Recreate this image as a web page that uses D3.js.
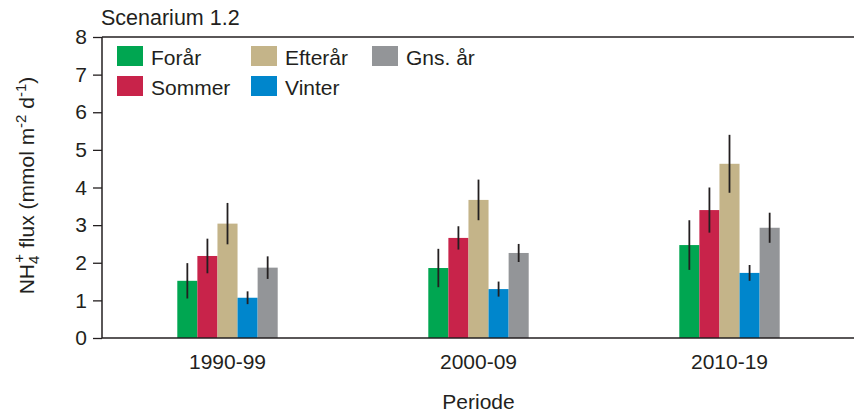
<!DOCTYPE html>
<html>
<head>
<meta charset="utf-8">
<script src="https://cdn.jsdelivr.net/npm/d3@7"></script>
<style>
  html, body { margin: 0; padding: 0; background: #fff; }
  svg { display: block; font-family: "Liberation Sans", Arial, Helvetica, sans-serif; }
</style>
</head>
<body>
<svg id="chart" width="854" height="414"></svg>
<script>
// Periods on the x axis
const periods = ["1990-99", "2000-09", "2010-19"];
// Seasons (series) and their colours
const seasons = ["Forår", "Sommer", "Efterår", "Vinter", "Gns. år"];
const seasonColors = ["#00a651", "#c8234a", "#c4b489", "#0086cc", "#939598"];
// Mean NH4+ flux per period, one array per season
const forar   = [1.52, 1.86, 2.47];
const sommer  = [2.18, 2.66, 3.40];
const efterar = [3.04, 3.67, 4.63];
const vinter  = [1.07, 1.30, 1.73];
const gnsAar  = [1.87, 2.26, 2.93];
// Error (± half-length of the error bar) per period
const forarErr   = [0.47, 0.51, 0.66];
const sommerErr  = [0.46, 0.31, 0.60];
const efterarErr = [0.55, 0.54, 0.77];
const vinterErr  = [0.17, 0.20, 0.21];
const gnsAarErr  = [0.30, 0.24, 0.40];
const yTicks = [0, 1, 2, 3, 4, 5, 6, 7, 8];

const means = [forar, sommer, efterar, vinter, gnsAar];
const errs = [forarErr, sommerErr, efterarErr, vinterErr, gnsAarErr];

const svg = d3.select("#chart");
const plotLeft = 102, plotRight = 855, plotTop = 37, plotBottom = 338;
const ink = "#231f20";
const fontSize = 21;

const x0 = d3.scaleBand().domain(periods).range([plotLeft, plotRight])
  .paddingInner(0.6).paddingOuter(0.3);
const x1 = d3.scaleBand().domain(seasons).range([0, x0.bandwidth()]);
const y = d3.scaleLinear().domain([0, 8]).range([plotBottom, plotTop]);
const color = d3.scaleOrdinal().domain(seasons).range(seasonColors);

// Bars and error bars
const rows = [];
periods.forEach((p, i) => {
  seasons.forEach((s, j) => {
    rows.push({ period: p, season: s, value: means[j][i], err: errs[j][i] });
  });
});

const g = svg.append("g");
g.selectAll("rect.bar").data(rows).enter().append("rect")
  .attr("class", "bar")
  .attr("x", d => x0(d.period) + x1(d.season))
  .attr("y", d => y(d.value))
  .attr("width", x1.bandwidth())
  .attr("height", d => y(0) - y(d.value))
  .attr("fill", d => color(d.season));

g.selectAll("line.err").data(rows).enter().append("line")
  .attr("class", "err")
  .attr("x1", d => x0(d.period) + x1(d.season) + x1.bandwidth() / 2)
  .attr("x2", d => x0(d.period) + x1(d.season) + x1.bandwidth() / 2)
  .attr("y1", d => y(d.value + d.err))
  .attr("y2", d => y(d.value - d.err))
  .attr("stroke", ink)
  .attr("stroke-width", 1.8);

// Y axis
const yAxis = svg.append("g")
  .attr("transform", `translate(${plotLeft},0)`)
  .call(d3.axisLeft(y).tickValues(yTicks).tickSize(9).tickPadding(6).tickFormat(d3.format("d")));
yAxis.select(".domain").remove();
yAxis.selectAll(".tick line").attr("stroke", ink).attr("stroke-width", 1.3);
yAxis.selectAll(".tick text")
  .attr("font-size", fontSize).attr("fill", ink)
  .attr("font-family", "Liberation Sans, Arial, sans-serif");

// Frame lines: left and top
svg.append("line").attr("x1", plotLeft).attr("x2", plotLeft).attr("y1", plotTop).attr("y2", plotBottom)
  .attr("stroke", ink).attr("stroke-width", 1.5);
svg.append("line").attr("x1", plotLeft).attr("x2", 854).attr("y1", plotTop).attr("y2", plotTop)
  .attr("stroke", ink).attr("stroke-width", 1.5);

// X axis
const xAxis = svg.append("g")
  .attr("transform", `translate(0,${plotBottom})`)
  .call(d3.axisBottom(x0).tickSize(0).tickPadding(16));
xAxis.select(".domain").remove();
xAxis.selectAll(".tick text")
  .attr("font-size", fontSize).attr("fill", ink)
  .attr("font-family", "Liberation Sans, Arial, sans-serif");
svg.append("line").attr("x1", plotLeft).attr("x2", 854).attr("y1", plotBottom).attr("y2", plotBottom)
  .attr("stroke", ink).attr("stroke-width", 1.5);

// Title
svg.append("text").attr("x", 101).attr("y", 25)
  .attr("font-size", 21.5).attr("fill", ink).text("Scenarium 1.2");

// X axis title
svg.append("text").attr("x", x0("2000-09") + x0.bandwidth() / 2).attr("y", 409)
  .attr("text-anchor", "middle").attr("font-size", fontSize).attr("fill", ink)
  .text("Periode");

// Y axis title with sub/superscripts (the + sits stacked over the 4)
const yl = svg.append("text")
  .attr("transform", `translate(34,${(plotTop + plotBottom) / 2 - 2}) rotate(-90)`)
  .attr("text-anchor", "middle").attr("font-size", fontSize).attr("fill", ink);
yl.append("tspan").text("NH");
yl.append("tspan").attr("font-size", 15).attr("dy", 5).text("4");
yl.append("tspan").attr("font-size", 15).attr("dx", -7).attr("dy", -15).text("+");
yl.append("tspan").attr("dy", 10).text(" flux (mmol m");
yl.append("tspan").attr("font-size", 15).attr("dy", -8).text("-2");
yl.append("tspan").attr("dy", 8).text(" d");
yl.append("tspan").attr("font-size", 15).attr("dy", -8).text("-1");
yl.append("tspan").attr("dy", 8).text(")");

// Legend
const legendCols = [117, 251, 372];
const legendRows = [46, 76];
const legendPos = [[0, 0], [0, 1], [1, 0], [1, 1], [2, 0]];
const lg = svg.append("g");
seasons.forEach((s, i) => {
  const [c, r] = legendPos[i];
  const lx = legendCols[c], ly = legendRows[r];
  lg.append("rect").attr("x", lx).attr("y", ly).attr("width", 26).attr("height", 20)
    .attr("fill", color(s));
  lg.append("text").attr("x", lx + 34).attr("y", ly + 19)
    .attr("font-size", fontSize).attr("fill", ink).text(s);
});
</script>
</body>
</html>
